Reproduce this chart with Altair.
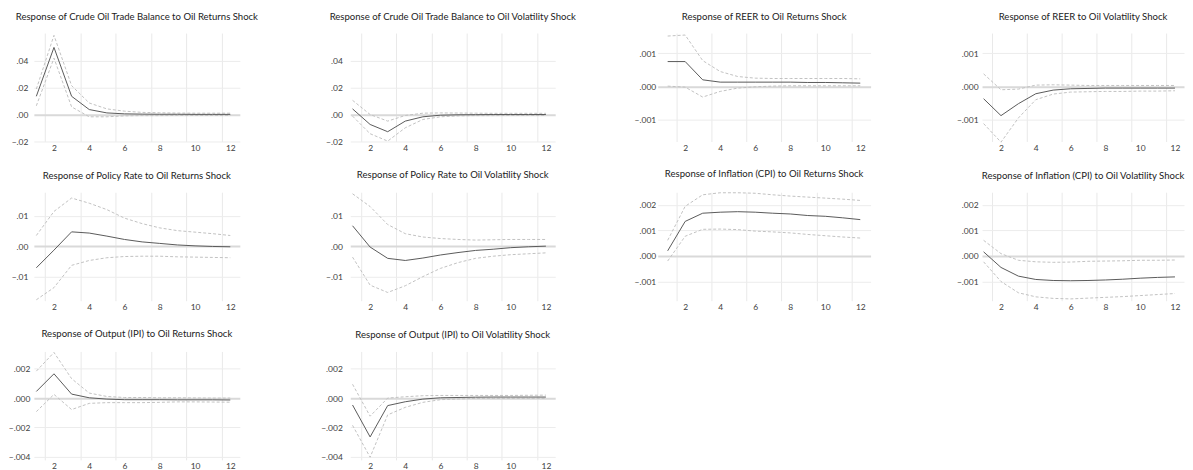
import altair as alt
import pandas as pd

periods = list(range(1, 13))

titles = [
    "Response of Crude Oil Trade Balance to Oil Returns Shock",
    "Response of Crude Oil Trade Balance to Oil Volatility Shock",
    "Response of REER to Oil Returns Shock",
    "Response of REER to Oil Volatility Shock",
    "Response of Policy Rate to Oil Returns Shock",
    "Response of Policy Rate to Oil Volatility Shock",
    "Response of Inflation (CPI) to Oil Returns Shock",
    "Response of Inflation (CPI) to Oil Volatility Shock",
    "Response of Output (IPI) to Oil Returns Shock",
    "Response of Output (IPI) to Oil Volatility Shock",
]

# 1. Trade balance <- oil returns
tb_ret_resp = [0.0136, 0.0500, 0.0136, 0.0037, 0.0012, 0.0005, 0.0003, 0.0002, 0.0002, 0.0001, 0.0001, 0.0001]
tb_ret_up = [0.0190, 0.0590, 0.0215, 0.0086, 0.0042, 0.0025, 0.0016, 0.0013, 0.0011, 0.0010, 0.0010, 0.0010]
tb_ret_lo = [0.0065, 0.0420, 0.0057, -0.0017, -0.0017, -0.0010, -0.0008, -0.0008, -0.0007, -0.0007, -0.0007, -0.0007]

# 2. Trade balance <- oil volatility
tb_vol_resp = [0.0042, -0.0074, -0.0128, -0.0049, -0.0017, -0.0005, -0.0002, -0.0001, 0.0000, 0.0000, 0.0000, 0.0000]
tb_vol_up = [0.0106, 0.0000, -0.0049, -0.0007, 0.0010, 0.0012, 0.0011, 0.0010, 0.0009, 0.0009, 0.0009, 0.0009]
tb_vol_lo = [-0.0012, -0.0143, -0.0198, -0.0099, -0.0037, -0.0017, -0.0010, -0.0008, -0.0008, -0.0007, -0.0007, -0.0007]

# 3. REER <- oil returns
reer_ret_resp = [0.00075, 0.00075, 0.00020, 0.00013, 0.00013, 0.00013, 0.00013, 0.00013, 0.00012, 0.00012, 0.00011, 0.00010]
reer_ret_up = [0.00152, 0.00155, 0.00078, 0.00045, 0.00030, 0.00025, 0.00024, 0.00024, 0.00024, 0.00024, 0.00024, 0.00023]
reer_ret_lo = [0.00001, -0.00002, -0.00032, -0.00015, -0.00005, -0.00001, 0.00001, 0.00002, 0.00002, 0.00002, 0.00002, 0.00002]

# 4. REER <- oil volatility
reer_vol_resp = [-0.00037, -0.00088, -0.00052, -0.00022, -0.00011, -0.00007, -0.00006, -0.00005, -0.00005, -0.00005, -0.00005, -0.00005]
reer_vol_up = [0.00038, -0.00010, -0.00008, 0.00004, 0.00005, 0.00004, 0.00003, 0.00003, 0.00003, 0.00003, 0.00003, 0.00003]
reer_vol_lo = [-0.00112, -0.00168, -0.00095, -0.00040, -0.00023, -0.00017, -0.00016, -0.00015, -0.00015, -0.00014, -0.00014, -0.00013]

# 5. Policy rate <- oil returns
pr_ret_resp = [-0.0071, -0.0013, 0.0047, 0.0043, 0.0033, 0.0022, 0.0014, 0.0009, 0.0004, 0.0001, -0.0001, -0.0002]
pr_ret_up = [0.0035, 0.0114, 0.0158, 0.0141, 0.0120, 0.0092, 0.0074, 0.0060, 0.0051, 0.0046, 0.0041, 0.0035]
pr_ret_lo = [-0.0176, -0.0136, -0.0063, -0.0047, -0.0038, -0.0034, -0.0033, -0.0033, -0.0035, -0.0036, -0.0037, -0.0038]

# 6. Policy rate <- oil volatility
pr_vol_resp = [0.0067, -0.0003, -0.0040, -0.0047, -0.0039, -0.0029, -0.0021, -0.0014, -0.0010, -0.0005, -0.0002, 0.0000]
pr_vol_up = [0.0172, 0.0130, 0.0071, 0.0041, 0.0030, 0.0025, 0.0022, 0.0020, 0.0021, 0.0022, 0.0022, 0.0022]
pr_vol_lo = [-0.0036, -0.0128, -0.0152, -0.0130, -0.0100, -0.0073, -0.0054, -0.0040, -0.0033, -0.0028, -0.0025, -0.0022]

# 7. Inflation <- oil returns
cpi_ret_resp = [0.00020, 0.00135, 0.00167, 0.00171, 0.00173, 0.00171, 0.00167, 0.00164, 0.00158, 0.00155, 0.00149, 0.00142]
cpi_ret_up = [0.00061, 0.00194, 0.00239, 0.00247, 0.00247, 0.00245, 0.00239, 0.00234, 0.00230, 0.00226, 0.00222, 0.00217]
cpi_ret_lo = [-0.00020, 0.00077, 0.00104, 0.00105, 0.00103, 0.00097, 0.00094, 0.00090, 0.00084, 0.00079, 0.00074, 0.00070]

# 8. Inflation <- oil volatility
cpi_vol_resp = [0.00016, -0.00045, -0.00079, -0.00092, -0.00096, -0.00097, -0.00096, -0.00094, -0.00091, -0.00087, -0.00084, -0.00082]
cpi_vol_up = [0.00061, 0.00009, -0.00017, -0.00023, -0.00025, -0.00024, -0.00021, -0.00020, -0.00019, -0.00017, -0.00017, -0.00016]
cpi_vol_lo = [-0.00023, -0.00100, -0.00144, -0.00160, -0.00166, -0.00168, -0.00165, -0.00162, -0.00159, -0.00155, -0.00151, -0.00147]

# 9. Output <- oil returns
ipi_ret_resp = [0.00045, 0.00165, 0.00027, 0.00002, -0.00007, -0.00011, -0.00011, -0.00011, -0.00012, -0.00012, -0.00012, -0.00013]
ipi_ret_up = [0.00183, 0.00310, 0.00132, 0.00034, 0.00011, 0.00004, 0.00004, 0.00002, 0.00002, 0.00001, 0.00000, 0.00000]
ipi_ret_lo = [-0.00092, 0.00025, -0.00078, -0.00036, -0.00031, -0.00031, -0.00031, -0.00029, -0.00026, -0.00026, -0.00027, -0.00028]

# 10. Output <- oil volatility
ipi_vol_resp = [-0.00047, -0.00264, -0.00051, -0.00025, -0.00007, 0.00002, 0.00004, 0.00006, 0.00007, 0.00007, 0.00007, 0.00007]
ipi_vol_up = [0.00094, -0.00123, 0.00000, 0.00009, 0.00016, 0.00018, 0.00018, 0.00018, 0.00018, 0.00018, 0.00019, 0.00020]
ipi_vol_lo = [-0.00185, -0.00402, -0.00114, -0.00063, -0.00029, -0.00011, -0.00006, -0.00002, -0.00002, -0.00002, -0.00002, -0.00002]

x_axis_values = [1.5, 2, 3.5, 4, 5.5, 6, 7.5, 8, 9.5, 10, 11.5, 12]

ticks_tb = [-0.02, 0.0, 0.02, 0.04]
ticks_reer = [-0.001, 0.0, 0.001]
ticks_pr = [-0.01, 0.0, 0.01]
ticks_cpi = [-0.001, 0.0, 0.001, 0.002]
ticks_ipi = [-0.004, -0.002, 0.0, 0.002]

dom_tb = [-0.0201, 0.0607]
dom_reer = [-0.00166, 0.00161]
dom_pr = [-0.0179, 0.0177]
dom_cpi = [-0.00175, 0.00249]
dom_ipi = [-0.0042, 0.00317]

# per-column geometry (plot width, x-domain, y-label padding)
col_width = [207, 206, 214, 203]
col_xdom = [[0.86, 12.54], [0.87, 12.53], [0.43, 12.59], [0.91, 12.52]]
col_labpad = [6, 8, 2, 4]
col_gap = [110.7, 102.3, 111.4]

FONT = "Lato"
H = 109


def panel(title, resp, up, lo, dom, ticks, fmt, col, labpad=None):
    df = pd.DataFrame({
        "period": periods * 3,
        "value": resp + up + lo,
        "series": ["Response"] * 12 + ["Upper"] * 12 + ["Lower"] * 12,
    })
    x = alt.X(
        "period:Q",
        scale=alt.Scale(domain=col_xdom[col], nice=False, zero=False),
        axis=alt.Axis(
            values=x_axis_values,
            labelExpr="datum.value % 2 == 0 ? format(datum.value, 'd') : ''",
            labelOverlap=False,
            labelFlush=False,
            grid=True,
            gridColor="#e9e9e9",
            gridOpacity={"condition": {"test": "datum.value % 2 != 0", "value": 1}, "value": 0},
            domain=False,
            ticks=False,
            tickSize=0,
            title=None,
            labelPadding=2,
            labelFontSize=8.5,
            labelFont=FONT,
            labelColor="#404040",
        ),
    )
    y = alt.Y(
        "value:Q",
        scale=alt.Scale(domain=dom, nice=False, zero=False),
        axis=alt.Axis(
            values=ticks,
            labelExpr=f"replace(format(datum.value, '{fmt}'), '0.', '.')",
            grid=True,
            gridColor={"condition": {"test": "datum.value == 0", "value": "#d9d9d9"}, "value": "#ececec"},
            gridWidth={"condition": {"test": "datum.value == 0", "value": 2}, "value": 1},
            domain=False,
            ticks=False,
            tickSize=0,
            title=None,
            labelPadding=col_labpad[col] if labpad is None else labpad,
            labelFontSize=8.5,
            labelFont=FONT,
            labelColor="#404040",
        ),
    )
    base = alt.Chart(df)
    bands = base.transform_filter("datum.series != 'Response'").mark_line(
        strokeDash=[3, 2], color="#c2c2c2", strokeWidth=1
    ).encode(x=x, y=y, detail="series:N")
    line = base.transform_filter("datum.series == 'Response'").mark_line(
        color="#5a5a5a", strokeWidth=1
    ).encode(x=x, y=y)
    return alt.layer(bands, line).properties(
        width=col_width[col],
        height=H,
        title=alt.TitleParams(
            title, fontSize=9.6, font=FONT, fontWeight="normal", anchor="middle",
            frame="group", offset=12, color="#222222",
        ),
    )


def spacer(i):
    return alt.Chart(pd.DataFrame({"v": [0]})).mark_point(opacity=0).properties(
        width=col_gap[i], height=H
    )


def row(*charts):
    items = []
    for i, c in enumerate(charts):
        if i > 0:
            items.append(spacer(i - 1))
        items.append(c)
    return items


cells = []
cells += row(
    panel(titles[0], tb_ret_resp, tb_ret_up, tb_ret_lo, dom_tb, ticks_tb, ".2f", 0),
    panel(titles[1], tb_vol_resp, tb_vol_up, tb_vol_lo, dom_tb, ticks_tb, ".2f", 1),
    panel(titles[2], reer_ret_resp, reer_ret_up, reer_ret_lo, dom_reer, ticks_reer, ".3f", 2),
    panel(titles[3], reer_vol_resp, reer_vol_up, reer_vol_lo, dom_reer, ticks_reer, ".3f", 3),
)
cells += row(
    panel(titles[4], pr_ret_resp, pr_ret_up, pr_ret_lo, dom_pr, ticks_pr, ".2f", 0),
    panel(titles[5], pr_vol_resp, pr_vol_up, pr_vol_lo, dom_pr, ticks_pr, ".2f", 1),
    panel(titles[6], cpi_ret_resp, cpi_ret_up, cpi_ret_lo, dom_cpi, ticks_cpi, ".3f", 2),
    panel(titles[7], cpi_vol_resp, cpi_vol_up, cpi_vol_lo, dom_cpi, ticks_cpi, ".3f", 3),
)
cells += row(
    panel(titles[8], ipi_ret_resp, ipi_ret_up, ipi_ret_lo, dom_ipi, ticks_ipi, ".3f", 0, labpad=4),
    panel(titles[9], ipi_vol_resp, ipi_vol_up, ipi_vol_lo, dom_ipi, ticks_ipi, ".3f", 1),
)

chart = alt.concat(
    *cells, columns=7, spacing={"row": 51, "column": 0}, bounds="flush", align="each"
).properties(
    padding={"left": 0, "top": 2, "right": 0, "bottom": 0},
    background="white",
).configure_view(stroke=None)

chart.save("out.html", embed_options={"renderer": "svg", "actions": False})
